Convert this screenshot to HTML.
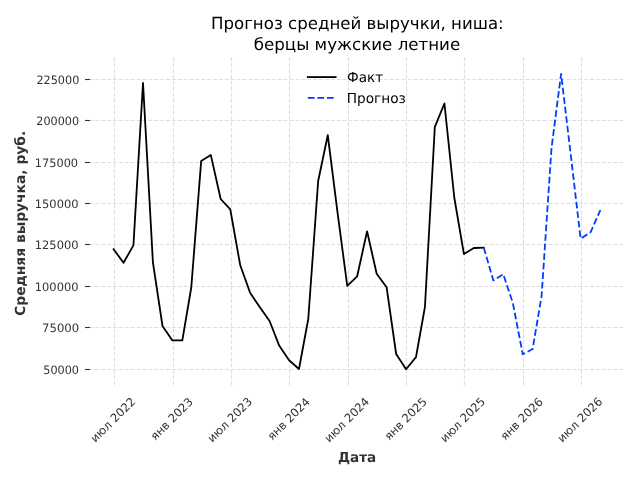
<!DOCTYPE html>
<html><head><meta charset="utf-8"><title>Прогноз средней выручки</title>
<style>html,body{margin:0;padding:0;background:#fff;overflow:hidden}svg{display:block;text-rendering:geometricPrecision;font-family:"DejaVu Sans","Liberation Sans",sans-serif}</style>
</head><body>
<svg width="640" height="480" viewBox="0 0 640 480">
<rect width="640" height="480" fill="#fff"/>
<g stroke="#dedede" stroke-width="1.11" stroke-dasharray="4.11 1.78" fill="none">
<path d="M114.5 385.3V57.0"/>
<path d="M173.5 385.3V57.0"/>
<path d="M231.5 385.3V57.0"/>
<path d="M289.5 385.3V57.0"/>
<path d="M348.5 385.3V57.0"/>
<path d="M406.5 385.3V57.0"/>
<path d="M464.5 385.3V57.0"/>
<path d="M523.5 385.3V57.0"/>
<path d="M581.5 385.3V57.0"/>
<path d="M89.3 79.5H625.3"/>
<path d="M89.3 120.5H625.3"/>
<path d="M89.3 162.5H625.3"/>
<path d="M89.3 203.5H625.3"/>
<path d="M89.3 244.5H625.3"/>
<path d="M89.3 286.5H625.3"/>
<path d="M89.3 327.5H625.3"/>
<path d="M89.3 369.5H625.3"/>
</g>
<g stroke="#333" stroke-width="1.11">
<path d="M85 79.5H90"/>
<path d="M85 120.5H90"/>
<path d="M85 162.5H90"/>
<path d="M85 203.5H90"/>
<path d="M85 244.5H90"/>
<path d="M85 286.5H90"/>
<path d="M85 327.5H90"/>
<path d="M85 369.5H90"/>
</g>
<polyline points="113.6,249.3 123.51,262.7 133.42,245.4 143.01,83 152.92,262.3 162.51,326 172.41,340.4 182.32,340.4 191.27,287.5 201.18,161.1 210.77,154.9 220.68,199 230.27,209.4 240.18,265 250.09,292.8 259.68,307 269.59,321 279.18,345.6 289.08,360.2 298.99,369 308.26,319 318.17,181 327.76,135.2 337.67,213.6 347.26,285.8 357.17,276.3 367.08,231.3 376.67,273.7 386.58,287.2 396.17,354 406.07,369.3 415.98,357.1 424.93,307 434.84,126.8 444.43,103.5 454.34,198 463.93,254 473.84,248 483.75,247.6" fill="none" stroke="#000" stroke-width="1.81" stroke-linejoin="round" stroke-linecap="square"/>
<polyline points="483.75,247.6 493.34,280.4 503.25,274.2 512.84,303 522.74,354.3 532.65,349 541.6,296 551.51,148 561.1,73.8 571.01,156.8 580.6,238.6 590.51,232.3 600.42,210" fill="none" stroke="#003dfd" stroke-width="1.81" stroke-linejoin="round" stroke-dasharray="6.68 2.89"/>
<path d="M307.84 77.1H335.62" stroke="#000" stroke-width="1.81" stroke-linecap="square"/>
<path d="M307.84 97.78H335.62" stroke="#003dfd" stroke-width="1.81" stroke-dasharray="6.68 2.89"/>
<text font-size="11.57" textLength="57.75" lengthAdjust="spacingAndGlyphs" fill="#333333" transform="translate(95.26 443.09) rotate(-45)">июл 2022</text>
<text font-size="11.57" textLength="54.44" lengthAdjust="spacingAndGlyphs" fill="#333333" transform="translate(155.25 441) rotate(-45)">янв 2023</text>
<text font-size="11.57" textLength="57.75" lengthAdjust="spacingAndGlyphs" fill="#333333" transform="translate(212.18 443.09) rotate(-45)">июл 2023</text>
<text font-size="11.57" textLength="54.57" lengthAdjust="spacingAndGlyphs" fill="#333333" transform="translate(272.17 441) rotate(-45)">янв 2024</text>
<text font-size="11.57" textLength="57.75" lengthAdjust="spacingAndGlyphs" fill="#333333" transform="translate(329.17 443.09) rotate(-45)">июл 2024</text>
<text font-size="11.57" textLength="54.44" lengthAdjust="spacingAndGlyphs" fill="#333333" transform="translate(389.16 441) rotate(-45)">янв 2025</text>
<text font-size="11.57" textLength="57.75" lengthAdjust="spacingAndGlyphs" fill="#333333" transform="translate(445.09 443.09) rotate(-45)">июл 2025</text>
<text font-size="11.57" textLength="54.44" lengthAdjust="spacingAndGlyphs" fill="#333333" transform="translate(505.33 441) rotate(-45)">янв 2026</text>
<text font-size="11.57" textLength="57.75" lengthAdjust="spacingAndGlyphs" fill="#333333" transform="translate(562.26 443.09) rotate(-45)">июл 2026</text>
<text font-size="13.89" font-weight="bold" textLength="38.26" lengthAdjust="spacingAndGlyphs" text-anchor="middle" fill="#333333" x="357.05" y="461.9">Дата</text>
<text font-size="11.57" textLength="35.72" lengthAdjust="spacingAndGlyphs" text-anchor="end" fill="#333333" x="79.03" y="373.86">50000</text>
<text font-size="11.57" textLength="36.98" lengthAdjust="spacingAndGlyphs" text-anchor="end" fill="#333333" x="79.08" y="332.43">75000</text>
<text font-size="11.57" textLength="43.67" lengthAdjust="spacingAndGlyphs" text-anchor="end" fill="#333333" x="78.48" y="291">100000</text>
<text font-size="11.57" textLength="43.67" lengthAdjust="spacingAndGlyphs" text-anchor="end" fill="#333333" x="78.48" y="249">125000</text>
<text font-size="11.57" textLength="43.67" lengthAdjust="spacingAndGlyphs" text-anchor="end" fill="#333333" x="78.48" y="208.14">150000</text>
<text font-size="11.57" textLength="43.26" lengthAdjust="spacingAndGlyphs" text-anchor="end" fill="#333333" x="78.08" y="166.96">175000</text>
<text font-size="11.57" textLength="42.73" lengthAdjust="spacingAndGlyphs" text-anchor="end" fill="#333333" x="79.08" y="125">200000</text>
<text font-size="11.57" textLength="42.91" lengthAdjust="spacingAndGlyphs" text-anchor="end" fill="#333333" x="79.33" y="84.1">225000</text>
<text font-size="13.89" font-weight="bold" textLength="185.16" lengthAdjust="spacingAndGlyphs" text-anchor="middle" fill="#333333" transform="translate(25.06 223.3) rotate(-90)">Средняя выручка, руб.</text>
<text font-size="16.67" textLength="292.78" lengthAdjust="spacingAndGlyphs" x="210.95" y="28.66">Прогноз средней выручки, ниша:</text>
<text font-size="16.67" textLength="206.45" lengthAdjust="spacingAndGlyphs" x="253.76" y="49.67">берцы мужские летние</text>
<text font-size="13.89" textLength="36" lengthAdjust="spacingAndGlyphs" x="347.08" y="82.25">Факт</text>
<text font-size="13.89" textLength="59.07" lengthAdjust="spacingAndGlyphs" x="346.73" y="102.64">Прогноз</text>
</svg>
</body></html>
